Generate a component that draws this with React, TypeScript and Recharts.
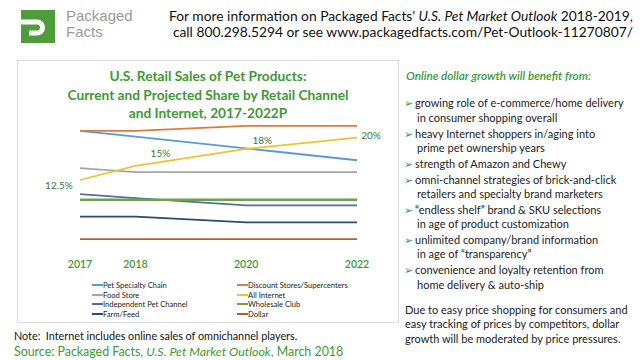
import React from "react";
import { LineChart, Line, XAxis, YAxis, LabelList } from "recharts";

// share of U.S. retail pet product sales (%)
const years = [2017, 2018, 2020, 2022];
const petSpecialty = [21.2, 20.2, 18.1, 16.0];
const discountStores = [21.2, 21.2, 22.1, 22.1];
const foodStore = [14.6, 13.9, 13.9, 13.9];
const allInternet = [12.5, 15, 18, 20];
const independentPet = [10, 9.3, 8, 8];
const wholesaleClub = [9, 9, 9, 9];
const farmFeed = [6, 6, 5, 5];
const dollar = [2, 2, 2, 2];
const yearTicks = [2017, 2018, 2020, 2022];

const series = [
  { key: "pet", name: "Pet Specialty Chain", color: "#5b9bd5", values: petSpecialty },
  { key: "discount", name: "Discount Stores/Supercenters", color: "#e07b39", values: discountStores },
  { key: "food", name: "Food Store", color: "#a5a5a5", values: foodStore },
  { key: "internet", name: "All Internet", color: "#f2c12e", values: allInternet },
  { key: "independent", name: "Independent Pet Channel", color: "#4f6fa6", values: independentPet },
  { key: "wholesale", name: "Wholesale Club", color: "#70a04c", values: wholesaleClub },
  { key: "farm", name: "Farm/Feed", color: "#2c4a72", values: farmFeed },
  { key: "dollar", name: "Dollar", color: "#b5602a", values: dollar },
];

const data = years.map((year, i) => {
  const row: Record<string, number> = { year };
  series.forEach((s) => (row[s.key] = s.values[i]));
  return row;
});

const titleLines = [
  "U.S. Retail Sales of Pet Products:",
  "Current and Projected Share by Retail Channel",
  "and Internet, 2017-2022P",
];

const bullets = [
  ["growing role of e-commerce/home delivery", "in consumer shopping overall"],
  ["heavy Internet shoppers in/aging into", "prime pet ownership years"],
  ["strength of Amazon and Chewy"],
  ["omni-channel strategies of brick-and-click", "retailers and specialty brand marketers"],
  ["\u201Cendless shelf\u201D brand & SKU selections", "in age of product customization"],
  ["unlimited company/brand information", "in age of \u201Ctransparency\u201D"],
  ["convenience and loyalty retention from", "home delivery & auto-ship"],
];

const closingLines = [
  "Due to easy price shopping for consumers and",
  "easy tracking of prices by competitors, dollar",
  "growth will be moderated by price pressures.",
];

const GREEN = "#3c9a34";
const FONT = "Lato, 'Open Sans', sans-serif";

// where each internet label sits relative to its point
const labelShift = [
  [-21, 5],
  [25, -13],
  [16, -9],
  [14, -3],
];

const InternetLabel = (props: any) => {
  const { x, y, value } = props;
  const i = allInternet.indexOf(value);
  const [dx, dy] = labelShift[i] || [0, -8];
  return (
    <text
      x={x + dx}
      y={y + dy}
      textAnchor="middle"
      dominantBaseline="central"
      fontSize={10}
      fill="#46743c"
      fontFamily={FONT}
    >
      {`${value}%`}
    </text>
  );
};

function Logo() {
  return (
    <svg width={60} height={50} style={{ position: "absolute", left: 0, top: 0 }}>
      <rect x={21} y={10} width={34} height={33} fill="#4f9d3a" />
      <path d="M21 22 H37 A5.5 5.5 0 0 1 37 33 H29" stroke="#fff" strokeWidth={5} fill="none" />
    </svg>
  );
}

export default function App() {
  const abs = (left: number, top: number, extra: React.CSSProperties = {}): React.CSSProperties => ({
    position: "absolute",
    left,
    top,
    whiteSpace: "nowrap",
    fontFamily: FONT,
    ...extra,
  });

  let y = 96.3;
  const bulletRows: React.ReactNode[] = [];
  bullets.forEach((lines, bi) => {
    lines.forEach((line, li) => {
      bulletRows.push(
        <div key={`${bi}-${li}`} style={abs(li === 0 ? 404 : 417, y, { fontSize: 11, lineHeight: "14px", color: "#222" })}>
          {li === 0 && <span style={{ color: GREEN, fontSize: 11, marginRight: 2 }}>{"\u27A2"}</span>}
          {line}
        </div>
      );
      y += 14.2;
    });
    y += 1.8;
  });

  return (
    <div style={{ position: "relative", width: 640, height: 360, background: "#fff", overflow: "hidden" }}>
      <style>{"body{margin:0}"}</style>
      <Logo />
      <div style={abs(66, 8, { fontSize: 15, lineHeight: "16px", color: "#9a9a9a", fontFamily: "'Liberation Sans', Arial, sans-serif" })}>
        Packaged
        <br />
        Facts
      </div>
      <div style={abs(145, 8, { width: 488, textAlign: "right", fontSize: 13.8, lineHeight: "16px", color: "#111" })}>
        For more information on Packaged Facts&rsquo; <i>U.S. Pet Market Outlook</i> 2018-2019,
        <br />
        call 800.298.5294 or see www.packagedfacts.com/Pet-Outlook-11270807/
      </div>

      <div style={{ position: "absolute", left: 17, top: 60, width: 380, height: 261, border: "1px solid #dcdcdc" }} />

      <div style={{ position: "absolute", left: 0, top: 0 }}>
        <LineChart
          width={400}
          height={330}
          data={data}
          margin={{ top: 109.5, right: 43, bottom: 49.5, left: 80 }}
        >
          <XAxis
            dataKey="year"
            type="number"
            domain={[2017, 2022]}
            ticks={yearTicks}
            axisLine={false}
            tickLine={false}
            tickMargin={4}
            tick={{ fill: GREEN, fontSize: 10.5, fontFamily: FONT, fontWeight: 600 }}
          />
          <YAxis hide domain={[0, 25]} />
          {series.map((s) => (
            <Line
              key={s.key}
              dataKey={s.key}
              name={s.name}
              stroke={s.color}
              strokeWidth={s.key === "wholesale" ? 2.5 : 1.8}
              dot={false}
              type="linear"
              isAnimationActive={false}
            >
              {s.key === "internet" && <LabelList dataKey="internet" content={InternetLabel} />}
            </Line>
          ))}
        </LineChart>
      </div>

      {titleLines.map((t, i) => (
        <div
          key={t}
          style={abs(8, 67 + i * 18.5, { width: 400, textAlign: "center", fontSize: 13.7, fontWeight: 700, lineHeight: "18px", color: GREEN })}
        >
          {t}
        </div>
      ))}

      {series.map((s, i) => (
        <div
          key={s.key}
          style={abs(i % 2 === 0 ? 92 : 237, 280 + Math.floor(i / 2) * 9.6, { fontSize: 7.6, lineHeight: "10px", color: "#222", display: "flex", alignItems: "center" })}
        >
          <span style={{ display: "inline-block", width: 11, height: 2, background: s.color, marginRight: 0 }} />
          {s.name}
        </div>
      ))}

      <div style={abs(14, 329, { fontSize: 10.8, lineHeight: "14px", color: "#111" })}>
        Note:&nbsp; Internet includes online sales of omnichannel players.
      </div>
      <div style={abs(14, 345, { fontSize: 12.4, lineHeight: "14px", color: GREEN })}>
        Source: Packaged Facts, <i>U.S. Pet Market Outlook</i>, March 2018
      </div>

      <div style={abs(406, 68, { fontSize: 11.7, lineHeight: "14px", color: GREEN, fontStyle: "italic", fontWeight: 600 })}>
        Online dollar growth will benefit from:
      </div>
      {bulletRows}
      {closingLines.map((t, i) => (
        <div key={t} style={abs(405, 303 + i * 14.3, { fontSize: 11, lineHeight: "14px", color: "#222" })}>
          {t}
        </div>
      ))}
    </div>
  );
}
